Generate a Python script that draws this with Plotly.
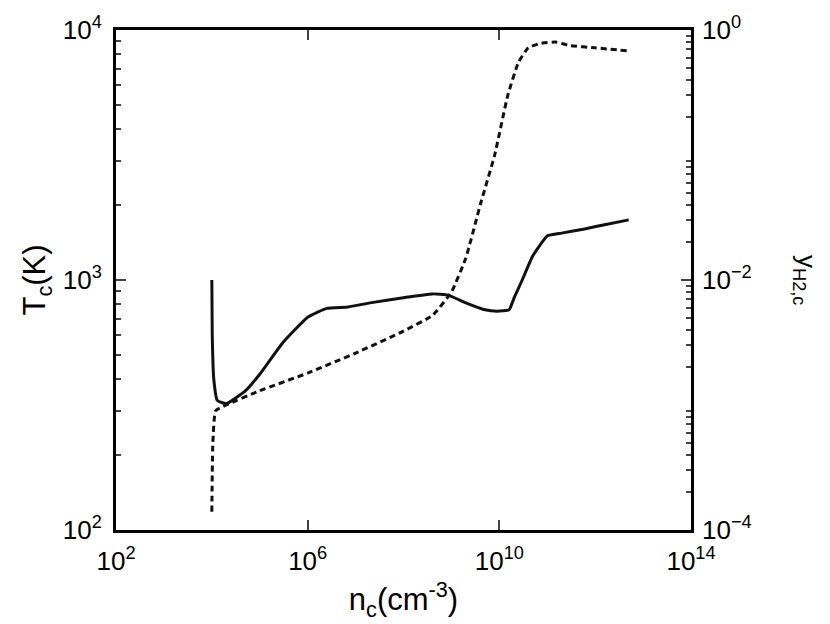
import plotly.graph_objects as go

# central density (cm^-3) and temperature (K)
n_T = [1e4, 1.02e4, 1.1e4, 1.3e4, 2e4, 5e4, 1e5, 3e5, 1e6, 2.5e6, 7e6, 2e7, 1e8, 4e8, 8.5e8, 2e9, 5e9, 9e9, 1.6e10, 1.9e10, 2.1e10, 3e10, 5e10, 1e11, 2e11, 6e11, 2e12, 5e12]
T_c = [1000, 600, 400, 330, 320, 360, 420, 560, 710, 770, 780, 810, 850, 880, 870, 810, 760, 750, 760, 820, 860, 1000, 1250, 1500, 1540, 1600, 1680, 1740]

# central H2 fraction
n_y = [1e4, 1.05e4, 1.2e4, 2e4, 1e5, 1e6, 1e7, 1e8, 4e8, 1e9, 2e9, 4e9, 8e9, 1.5e10, 2.5e10, 4e10, 7e10, 1.5e11, 3e11, 1e12, 5e12]
y_H2 = [1.4e-4, 5e-4, 9e-4, 1.0e-3, 1.3e-3, 1.8e-3, 2.6e-3, 3.9e-3, 5.2e-3, 8e-3, 1.5e-2, 4e-2, 0.1, 0.3, 0.55, 0.72, 0.78, 0.8, 0.75, 0.72, 0.68]

x_ticks = [1e2, 1e6, 1e10, 1e14]
x_labels = ["10<sup>2</sup>", "10<sup>6</sup>", "10<sup>10</sup>", "10<sup>14</sup>"]

font = dict(family="Liberation Sans, Arial", size=26, color="black")

fig = go.Figure()
fig.add_trace(go.Scatter(x=n_T, y=T_c, mode="lines", line=dict(color="#111", width=3, shape="spline", smoothing=0.4)))
fig.add_trace(go.Scatter(x=n_y, y=y_H2, mode="lines", yaxis="y2",
                         line=dict(color="#111", width=3, dash="6px,4px", shape="spline", smoothing=0.4)))

minor_l = [m * 10**e for e in (2, 3) for m in range(2, 10)]
minor_r = [m * 10**e for e in (-4, -3, -2, -1) for m in range(2, 10)]

fig.update_layout(
    width=830, height=624, showlegend=False,
    plot_bgcolor="white", paper_bgcolor="white", font=font,
    margin=dict(l=108, r=147, t=22, b=102),
    xaxis=dict(type="log", range=[2, 14], tickvals=x_ticks, ticktext=x_labels, automargin=False,
               ticks="inside", ticklen=10, tickwidth=2, showgrid=False, ticklabelstandoff=6,
               showline=True, linewidth=3, linecolor="black", mirror="ticks",
               title=dict(text="n<sub>c</sub>(cm<sup>-3</sup>)", standoff=14)),
    yaxis=dict(type="log", range=[2, 4], tickvals=[1e2, 1e3, 1e4], automargin=False,
               ticktext=["10<sup>2</sup>", "10<sup>3</sup>", "10<sup>4</sup>"],
               ticks="inside", ticklen=10, tickwidth=2, showgrid=False, ticklabelstandoff=6,
               showline=True, linewidth=3, linecolor="black", mirror=True,
               minor=dict(tickvals=minor_l, ticks="inside", ticklen=5, tickwidth=1.5),
               title=dict(text="T<sub>c</sub>(K)", standoff=8)),
    yaxis2=dict(type="log", range=[-4, 0], overlaying="y", side="right", automargin=False,
                tickvals=[1e-4, 1e-2, 1e0],
                ticktext=["10<sup>−4</sup>", "10<sup>−2</sup>", "10<sup>0</sup>"],
                ticks="inside", ticklen=10, tickwidth=2, showgrid=False, ticklabelstandoff=10,
                minor=dict(tickvals=minor_r, ticks="inside", ticklen=5, tickwidth=1.5)),
)
fig.add_annotation(text="y<sub>H2,c</sub>", xref="paper", yref="paper", x=1.2, y=0.5,
                   xanchor="center", textangle=90, showarrow=False, font=font)

fig.write_html("out.html")
